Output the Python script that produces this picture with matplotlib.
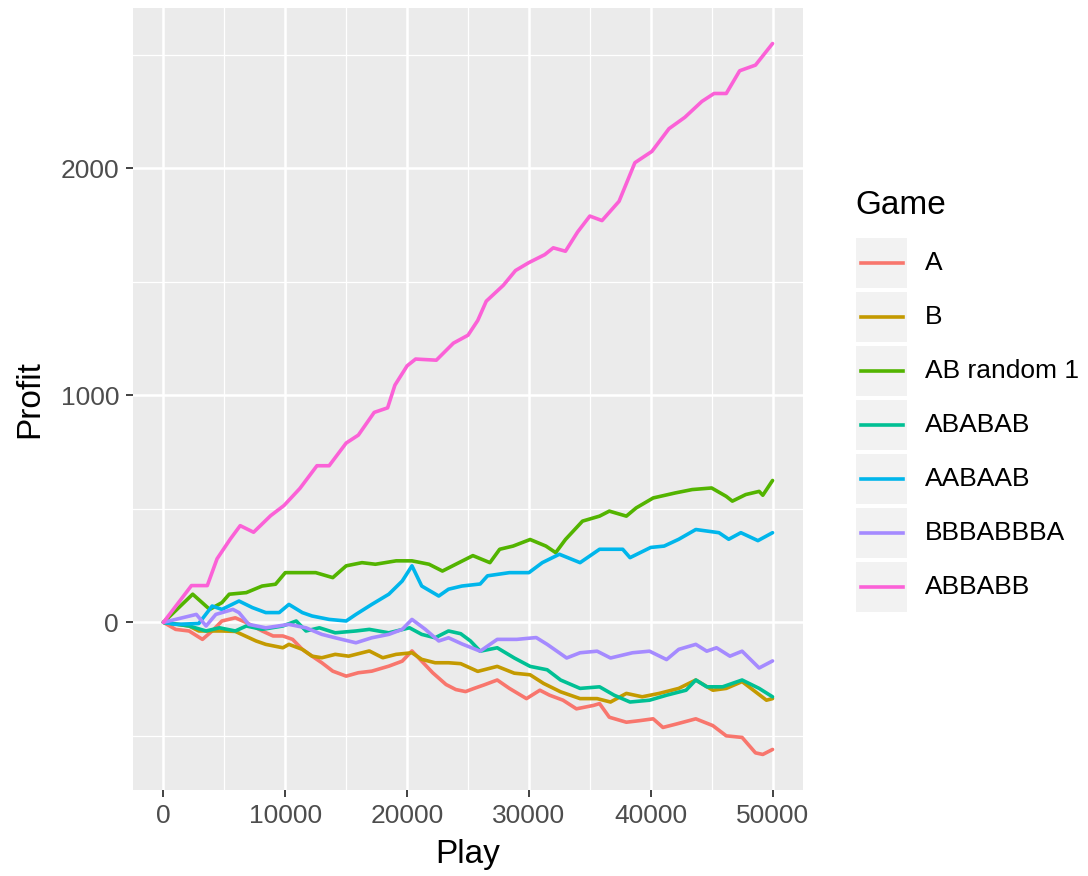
import matplotlib
matplotlib.use("Agg")
import matplotlib.pyplot as plt
from matplotlib.patches import Rectangle
from matplotlib.lines import Line2D

# ---------------- data ----------------
games = ["A", "B", "AB random 1", "ABABAB", "AABAAB", "BBBABBBA", "ABBABB"]
colors = ["#F8766D", "#C49A00", "#53B400", "#00C094", "#00B6EB", "#A58AFF", "#FB61D7"]

a_play = [0, 1000, 2100, 3200, 4000, 4800, 5900, 6800, 8100, 9000, 9800, 10600, 11400, 12200,
          13000, 13900, 15000, 16000, 17100, 18500, 19600, 20400, 21200, 22100, 23200, 24000,
          24800, 25500, 26300, 27400, 28400, 29800, 30900, 31700, 32800, 33900, 35300, 35800,
          36600, 38000, 39100, 40200, 41000, 42100, 43700, 45100, 46200, 47500, 48600, 49200, 50000]
a_profit = [0, -31, -38, -75, -38, 6, 20, -1, -38, -60, -60, -75, -119, -149,
            -178, -215, -237, -222, -215, -193, -171, -126, -171, -222, -274, -296,
            -305, -291, -276, -254, -291, -336, -299, -321, -343, -381, -366, -358,
            -418, -440, -433, -425, -463, -448, -425, -455, -500, -507, -575, -582, -560]

b_play = [0, 2100, 2900, 4800, 5900, 7600, 8400, 9800, 10300, 11400, 12200, 13000, 14100,
          15200, 16900, 18000, 19100, 20400, 21200, 22300, 23400, 24400, 25800, 27400, 28800,
          30100, 31200, 32600, 34200, 35600, 36700, 38000, 39300, 40700, 42300, 43700, 45100,
          46200, 47500, 48600, 49500, 50000]
b_profit = [0, -16, -38, -38, -40, -82, -97, -112, -97, -119, -149, -156, -141,
            -149, -126, -156, -141, -134, -163, -178, -178, -182, -216, -194, -224,
            -231, -269, -306, -336, -336, -351, -313, -328, -313, -291, -254, -299,
            -291, -261, -306, -343, -336]

abr_play = [0, 2400, 3800, 4800, 5400, 6800, 8100, 9200, 10000, 11400, 12500, 13900, 15000,
            16300, 17400, 19100, 20400, 21800, 22900, 24000, 25400, 26800, 27600, 28700, 30100,
            31400, 32200, 33000, 34400, 35800, 36600, 38000, 38800, 40200, 42000, 43400, 45000,
            46200, 46700, 47800, 48900, 49200, 50000]
abr_profit = [0, 124, 57, 87, 124, 131, 160, 168, 219, 219, 219, 197, 249,
              263, 256, 271, 271, 256, 226, 256, 294, 263, 322, 336, 365,
              336, 307, 365, 446, 468, 490, 468, 504, 548, 570, 585, 592,
              555, 534, 563, 577, 560, 625]

abab_play = [0, 2100, 3500, 4600, 5900, 6800, 8100, 9800, 10900, 11700, 12800, 14100, 15800,
             16900, 18500, 20200, 21200, 22300, 23400, 24400, 25200, 26000, 27400, 28800, 30100,
             31500, 32600, 34200, 35800, 37000, 38300, 39900, 41300, 42900, 43700, 44600, 45900,
             47500, 48900, 50000]
abab_profit = [0, -16, -38, -24, -38, -16, -31, -16, 6, -38, -24, -46, -38,
               -31, -46, -24, -53, -68, -38, -50, -82, -127, -112, -157, -194,
               -209, -254, -291, -284, -321, -351, -343, -321, -299, -254, -284, -284,
               -254, -291, -328]

aab_play = [0, 1000, 2900, 4000, 4800, 6200, 7300, 8400, 9500, 10300, 11400, 12200, 13600,
            15000, 15800, 17100, 18500, 19600, 20400, 21200, 22600, 23400, 24500, 26000, 26600,
            28400, 30000, 31100, 32500, 34200, 35800, 37700, 38300, 40000, 41100, 42300, 43700,
            45600, 46400, 47400, 48800, 50000]
aab_profit = [0, -9, -5, 72, 57, 94, 65, 43, 43, 79, 43, 28, 13,
              6, 35, 79, 124, 182, 249, 160, 116, 146, 160, 169, 205,
              219, 219, 263, 300, 263, 322, 322, 285, 330, 336, 366, 409,
              395, 366, 395, 360, 395]

bbb_play = [0, 1000, 2700, 3500, 4300, 5700, 6200, 7000, 8400, 10300, 11700, 13000, 14100,
            15800, 17100, 18500, 19600, 20400, 21500, 22600, 23400, 24500, 26000, 27400, 29000,
            30600, 31500, 33100, 34200, 35600, 36700, 38500, 39900, 41300, 42300, 43700, 44600,
            45400, 46500, 47500, 48900, 50000]
bbb_profit = [0, 13, 35, -16, 35, 57, 43, -9, -24, -9, -24, -53, -68,
              -90, -68, -53, -31, 13, -31, -82, -68, -95, -127, -75, -75,
              -67, -97, -157, -134, -127, -157, -134, -127, -164, -119, -97, -127,
              -112, -149, -127, -201, -170]

abb_play = [0, 2300, 3600, 4400, 5500, 6300, 7400, 8800, 9900, 11200, 12600, 13600, 15000,
            16000, 17300, 18400, 19000, 20000, 20700, 22400, 23800, 25000, 25800, 26500, 27900,
            28900, 30000, 31300, 32000, 33000, 34000, 35000, 36000, 37400, 38700, 40100, 41500,
            42800, 44200, 45200, 46200, 47300, 48600, 50000]
abb_profit = [0, 162, 162, 280, 368, 426, 397, 470, 515, 590, 690, 690, 790,
              825, 925, 945, 1045, 1130, 1160, 1155, 1230, 1265, 1330, 1415, 1485,
              1550, 1585, 1620, 1650, 1635, 1720, 1790, 1770, 1855, 2025, 2075, 2175,
              2225, 2295, 2330, 2330, 2430, 2455, 2550]

series_play = [a_play, b_play, abr_play, abab_play, aab_play, bbb_play, abb_play]
series_profit = [a_profit, b_profit, abr_profit, abab_profit, aab_profit, bbb_profit, abb_profit]

x_major = [0, 10000, 20000, 30000, 40000, 50000]
x_minor = [5000, 15000, 25000, 35000, 45000]
y_major = [0, 1000, 2000]
y_minor = [-500, 500, 1500, 2500]

# ---------------- figure ----------------
W, H = 1088, 876
plt.rcParams['font.family'] = ['Liberation Sans', 'DejaVu Sans']
fig = plt.figure(figsize=(W / 100, H / 100), dpi=100)
fig.patch.set_facecolor("white")

L, R, T, B = 133, 803, 8, 790
ax = fig.add_axes([L / W, 1 - B / H, (R - L) / W, (B - T) / H])
ax.set_facecolor("#EBEBEB")
for s in ax.spines.values():
    s.set_visible(False)

for xs, ys, c in zip(series_play, series_profit, colors):
    ax.plot(xs, ys, color=c, lw=2.6, solid_joinstyle="round", solid_capstyle="round", zorder=3)

allv = [v for s in series_profit for v in s]
lo, hi = min(allv), max(allv)
pad = 0.05 * (hi - lo)
ax.set_ylim(lo - pad, hi + pad)
ax.set_xlim(-2500, 52500)

ax.set_xticks(x_major)
ax.set_xticks(x_minor, minor=True)
ax.set_yticks(y_major)
ax.set_yticks(y_minor, minor=True)
ax.set_xticklabels([str(v) for v in x_major])
ax.set_yticklabels([str(v) for v in y_major])
ax.grid(which="major", color="white", lw=1.8, zorder=0)
ax.grid(which="minor", color="white", lw=0.9, zorder=0)
ax.set_axisbelow(True)
ax.tick_params(which="major", length=5, width=1.3, color="#333333",
               labelsize=19, labelcolor="#4D4D4D", pad=5)
ax.tick_params(which="minor", length=0)

ax.set_xlabel("Play", fontsize=24, color="black", labelpad=8)
ax.set_ylabel("Profit", fontsize=24, color="black", labelpad=11)

# ---------------- legend (ggplot style) ----------------
def fx(px):
    return px / W

def fy(py):
    return 1 - py / H

fig.text(fx(855), fy(206), "Game", fontsize=24, va="center", ha="left", color="black")
key_w, key_h, step, y0 = 51, 50, 54, 263
for i, (name, c) in enumerate(zip(games, colors)):
    yc = y0 + i * step
    fig.patches.append(Rectangle((fx(856), fy(yc + key_h / 2)), key_w / W, key_h / H,
                                 transform=fig.transFigure, facecolor="#F2F2F2",
                                 edgecolor="none"))
    fig.lines.append(Line2D([fx(861), fx(903)], [fy(yc), fy(yc)], transform=fig.transFigure,
                            color=c, lw=2.6))
    fig.text(fx(925), fy(yc), name, fontsize=19, va="center", ha="left", color="black")

fig.savefig("out.png", dpi=100, facecolor="white")
